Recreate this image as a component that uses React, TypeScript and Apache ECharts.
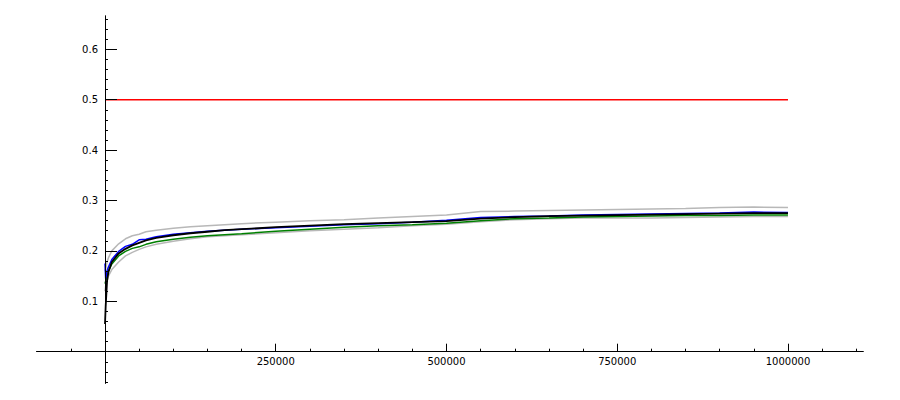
import React, { useEffect, useRef } from "react";
import * as echarts from "echarts";

const X = [0, 1000, 3000, 5000, 10000, 20000, 30000, 40000, 50000, 60000, 75000, 100000, 125000, 150000, 175000, 200000, 250000, 300000, 350000, 400000, 450000, 500000, 550000, 600000, 650000, 700000, 750000, 800000, 850000, 900000, 950000, 1000000];

const blackY = [0.055, 0.09, 0.14, 0.158, 0.178, 0.195, 0.204, 0.211, 0.216, 0.221, 0.226, 0.231, 0.235, 0.238, 0.241, 0.243, 0.247, 0.25, 0.253, 0.255, 0.257, 0.259, 0.264, 0.267, 0.269, 0.27, 0.271, 0.272, 0.273, 0.274, 0.275, 0.275];
const blueY = [0.175, 0.145, 0.16, 0.168, 0.183, 0.199, 0.209, 0.213, 0.222, 0.223, 0.228, 0.233, 0.236, 0.239, 0.241, 0.243, 0.246, 0.249, 0.252, 0.254, 0.257, 0.261, 0.266, 0.268, 0.269, 0.271, 0.272, 0.273, 0.274, 0.275, 0.277, 0.276];
const greenY = [0.135, 0.14, 0.15, 0.16, 0.174, 0.19, 0.199, 0.205, 0.208, 0.213, 0.218, 0.223, 0.227, 0.23, 0.232, 0.234, 0.239, 0.243, 0.247, 0.25, 0.252, 0.255, 0.26, 0.264, 0.265, 0.267, 0.268, 0.269, 0.27, 0.27, 0.271, 0.271];
const upperY = [0.16, 0.165, 0.178, 0.186, 0.2, 0.214, 0.224, 0.23, 0.233, 0.238, 0.241, 0.245, 0.248, 0.25, 0.252, 0.254, 0.257, 0.26, 0.262, 0.265, 0.268, 0.271, 0.278, 0.279, 0.28, 0.281, 0.282, 0.283, 0.284, 0.286, 0.287, 0.286];
const lowerY = [0.12, 0.13, 0.14, 0.15, 0.163, 0.178, 0.19, 0.197, 0.203, 0.208, 0.213, 0.219, 0.224, 0.228, 0.23, 0.232, 0.236, 0.24, 0.243, 0.246, 0.25, 0.253, 0.258, 0.262, 0.264, 0.265, 0.265, 0.265, 0.266, 0.267, 0.268, 0.268];

const refX = [0, 1000000];
const refY = [0.5, 0.5];

const xMajorTicks = [250000, 500000, 750000, 1000000];
const xMinorTicks = [-50000, 50000, 100000, 150000, 200000, 300000, 350000, 400000, 450000, 550000, 600000, 650000, 700000, 800000, 850000, 900000, 950000, 1050000, 1100000];
const yMajorTicks = [0.1, 0.2, 0.3, 0.4, 0.5, 0.6];
const yMinorTicks = [-0.06, -0.04, -0.02, 0.02, 0.04, 0.06, 0.08, 0.12, 0.14, 0.16, 0.18, 0.22, 0.24, 0.26, 0.28, 0.32, 0.34, 0.36, 0.38, 0.42, 0.44, 0.46, 0.48, 0.52, 0.54, 0.56, 0.58, 0.62, 0.64, 0.66];

const X_MIN = -100000;
const X_MAX = 1110000;
const Y_MIN = -0.0625;
const Y_MAX = 0.666;

const pairs = (xs: number[], ys: number[]) => xs.map((x, i) => [x, ys[i]]);

export default function App() {
  const ref = useRef<HTMLDivElement>(null);
  useEffect(() => {
    if (!ref.current) return;
    const chart = echarts.init(ref.current, null, { renderer: "svg" });
    const W = 900;
    const H = 400;
    const gLeft = 36.7;
    const gRight = 36.9;
    const gTop = 16;
    const gBottom = 16.8;
    const gW = W - gLeft - gRight;
    const gH = H - gTop - gBottom;
    // place axes where the other axis' value is zero
    const xAxisOffset = -((0 - Y_MIN) / (Y_MAX - Y_MIN)) * gH;
    const yAxisOffset = -((0 - X_MIN) / (X_MAX - X_MIN)) * gW;

    const font = { fontFamily: "DejaVu Sans", fontSize: 10, color: "#000" };
    const axisLine = { show: true, onZero: false, lineStyle: { color: "#000", width: 1 } };
    const lineSeries = (name: string, ys: number[], color: string, width: number, z: number) => ({
      name,
      type: "line",
      data: pairs(X, ys),
      showSymbol: false,
      symbol: "none",
      lineStyle: { color, width },
      z,
      silent: true,
    });
    chart.setOption({
      animation: false,
      backgroundColor: "#fff",
      grid: {
        left: gLeft,
        right: gRight,
        top: gTop,
        bottom: gBottom,
        containLabel: false,
        outerBoundsMode: "none",
      },
      xAxis: [
        {
          type: "value",
          min: X_MIN,
          max: X_MAX,
          position: "bottom",
          offset: xAxisOffset,
          z: 10,
          axisLine,
          splitLine: { show: false },
          axisTick: { show: true, inside: true, length: 8, customValues: xMajorTicks, lineStyle: { color: "#000" } },
          axisLabel: { show: true, margin: 5, customValues: xMajorTicks, ...font, formatter: (v: number) => String(v) },
        },
        {
          type: "value",
          min: X_MIN,
          max: X_MAX,
          position: "bottom",
          offset: xAxisOffset,
          z: 10,
          axisLine,
          splitLine: { show: false },
          axisTick: { show: true, inside: true, length: 3, customValues: xMinorTicks, lineStyle: { color: "#000" } },
          axisLabel: { show: false },
        },
      ],
      yAxis: [
        {
          type: "value",
          min: Y_MIN,
          max: Y_MAX,
          position: "left",
          offset: yAxisOffset,
          z: 10,
          axisLine,
          splitLine: { show: false },
          axisTick: { show: true, inside: true, length: 12, customValues: yMajorTicks, lineStyle: { color: "#000" } },
          axisLabel: { show: true, margin: 7, customValues: yMajorTicks, ...font, formatter: (v: number) => v.toFixed(1) },
        },
        {
          type: "value",
          min: Y_MIN,
          max: Y_MAX,
          position: "left",
          offset: yAxisOffset,
          z: 10,
          axisLine,
          splitLine: { show: false },
          axisTick: { show: true, inside: true, length: 3, customValues: yMinorTicks, lineStyle: { color: "#000" } },
          axisLabel: { show: false },
        },
      ],
      series: [
        lineSeries("upper", upperY, "#b8b8b8", 1.5, 2),
        lineSeries("lower", lowerY, "#b8b8b8", 1.5, 2),
        lineSeries("green", greenY, "#008000", 1.5, 3),
        lineSeries("blue", blueY, "#0000ff", 1.5, 4),
        lineSeries("black", blackY, "#000000", 1.8, 5),
        {
          name: "ref",
          type: "line",
          data: pairs(refX, refY),
          showSymbol: false,
          symbol: "none",
          lineStyle: { color: "#ff0000", width: 1.5 },
          z: 5,
          silent: true,
        },
      ],
    });
    return () => chart.dispose();
  }, []);
  return (
    <div
      ref={ref}
      style={{ position: "absolute", left: 0, top: 0, width: 900, height: 400, background: "#fff" }}
    />
  );
}
